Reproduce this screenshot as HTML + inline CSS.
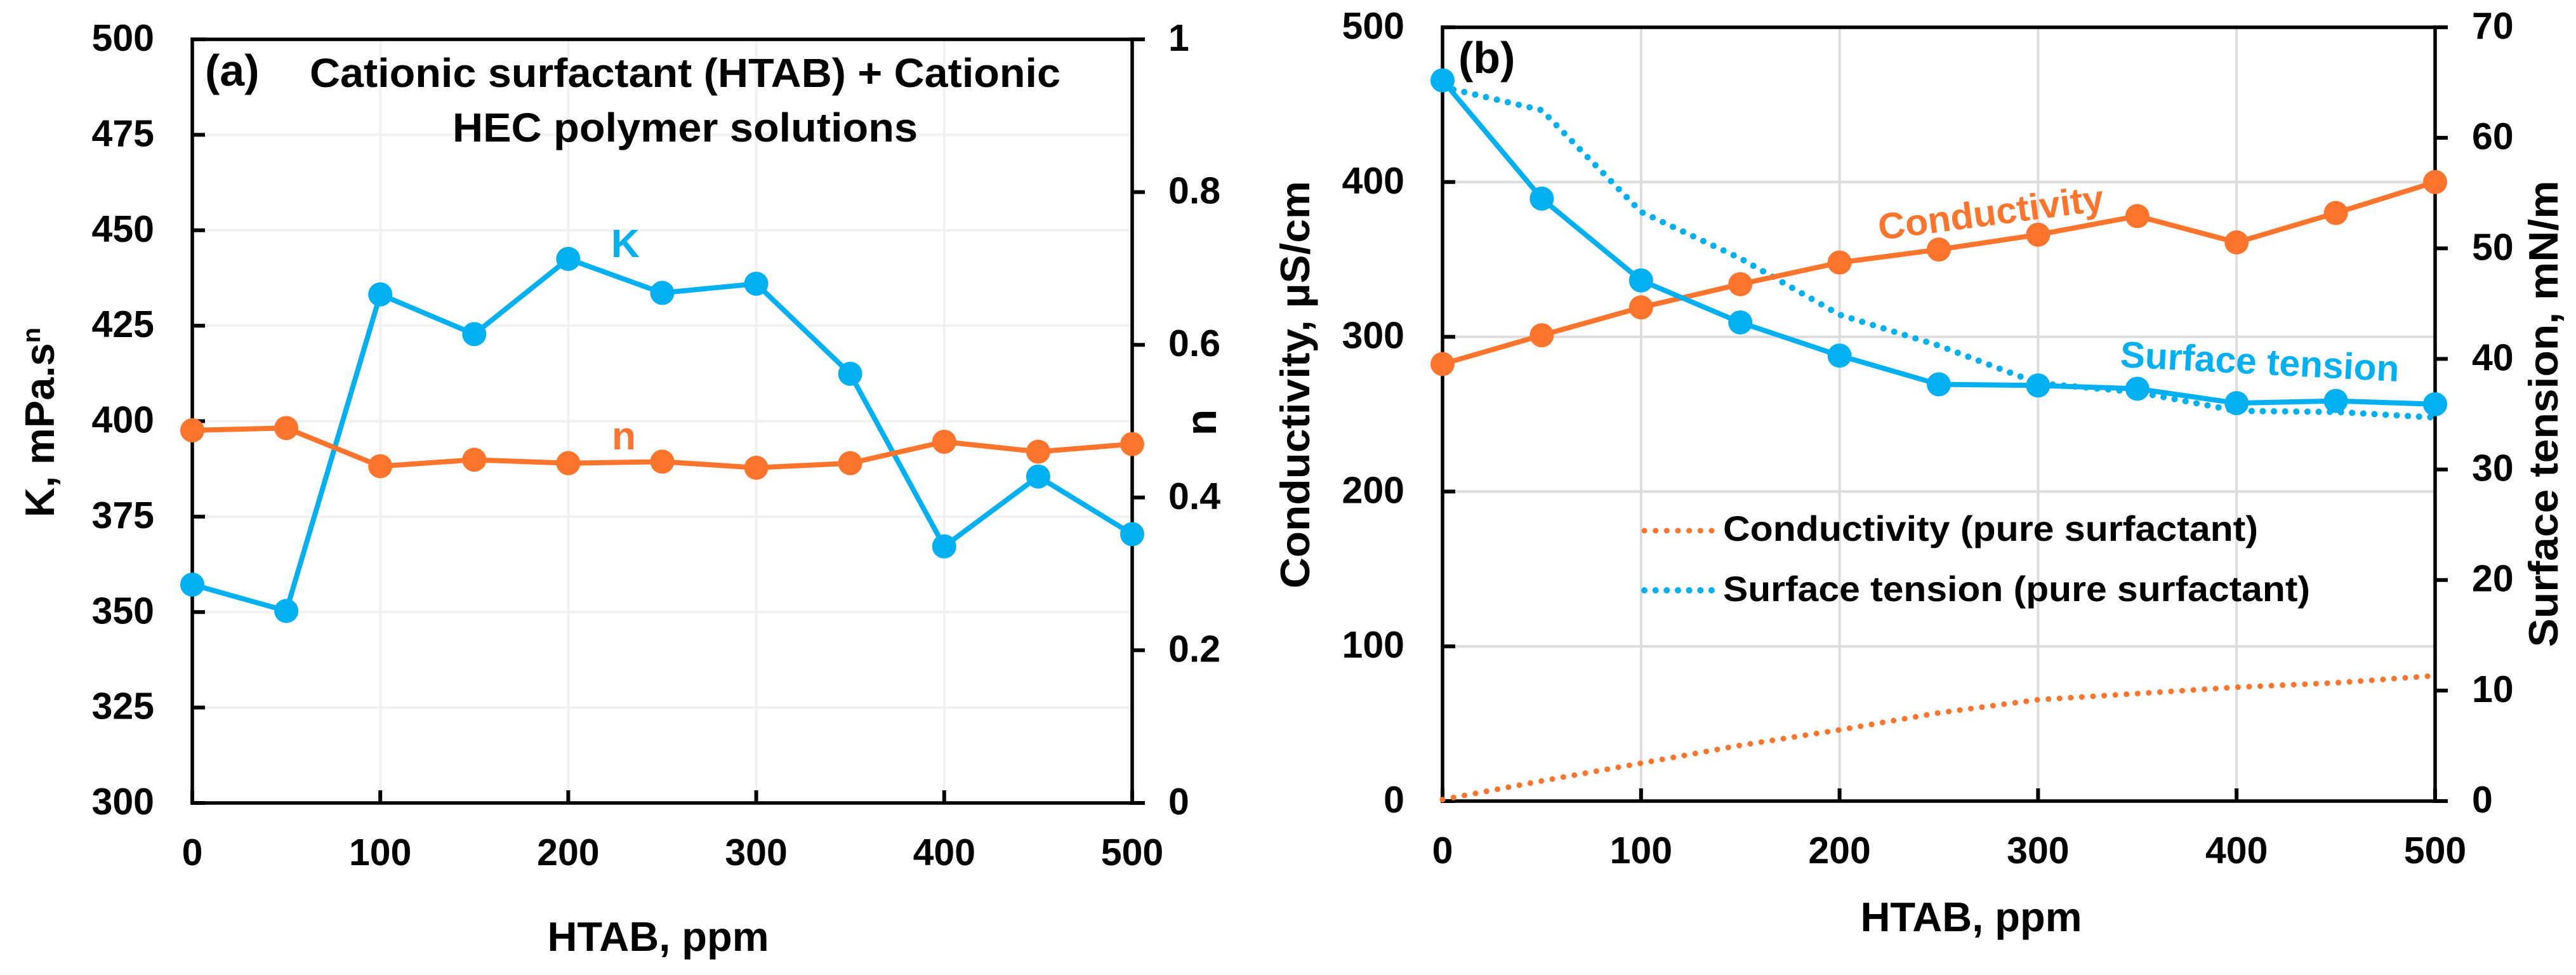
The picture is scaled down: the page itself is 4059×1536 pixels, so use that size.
<!DOCTYPE html>
<html lang="en">
<head>
<meta charset="utf-8">
<title>HTAB surfactant and cationic HEC polymer charts</title>
<style>
  html, body { margin: 0; padding: 0; background: #fff; }
  svg { display: block; }
  text { font-family: "Liberation Sans", sans-serif; font-weight: 700; fill: #000; }
  .tick { font-size: 59px; }
  .title { font-size: 64px; }
  .axis-title { font-size: 65px; }
  .legend { font-size: 56px; }
  .panel { font-size: 70px; }
</style>
</head>
<body>
<svg id="chart" xmlns="http://www.w3.org/2000/svg" width="4059" height="1536" viewBox="0 0 4059 1536">
  <rect x="0" y="0" width="4059" height="1536" fill="#ffffff"/>
  <g id="panel-a-layer"></g>
  <g id="panel-b-layer"></g>

  <text class="panel" x="323" y="135">(a)</text>
  <text class="title" x="488" y="137" textLength="1183" lengthAdjust="spacingAndGlyphs">Cationic surfactant (HTAB) + Cationic</text>
  <text class="title" x="713" y="223" textLength="733" lengthAdjust="spacingAndGlyphs">HEC polymer solutions</text>
  <text x="963" y="405" font-size="62" style="fill:#00B0F0">K</text>
  <text x="964" y="708" font-size="62" style="fill:#FD742C">n</text>
  <text class="axis-title" x="1037" y="1498" text-anchor="middle">HTAB, ppm</text>
  <text class="axis-title" transform="translate(85 815) rotate(-90)">K, mPa.s<tspan dy="-22" font-size="40">n</tspan></text>
  <text transform="translate(1916 665.5) rotate(-90)" text-anchor="middle" font-size="68">n</text>

  <text class="panel" x="2298" y="115">(b)</text>
  <text font-size="58" transform="translate(2962 378) rotate(-7.5)" textLength="358" lengthAdjust="spacingAndGlyphs" style="fill:#FD742C">Conductivity</text>
  <text font-size="58" transform="translate(3340 578) rotate(3)" textLength="440" lengthAdjust="spacingAndGlyphs" style="fill:#00B0F0">Surface tension</text>
  <line x1="2591" y1="836" x2="2698" y2="836" stroke="#FD742C" stroke-width="9" stroke-linecap="round" stroke-dasharray="0 17.65"/>
  <text class="legend" x="2715" y="852" textLength="843" lengthAdjust="spacingAndGlyphs">Conductivity (pure surfactant)</text>
  <line x1="2591" y1="930" x2="2698" y2="930" stroke="#00B0F0" stroke-width="10" stroke-linecap="round" stroke-dasharray="0 17.65"/>
  <text class="legend" x="2715" y="947" textLength="925" lengthAdjust="spacingAndGlyphs">Surface tension (pure surfactant)</text>
  <text class="axis-title" x="3106" y="1467" text-anchor="middle">HTAB, ppm</text>
  <text class="axis-title" transform="translate(2063 606) rotate(-90)" text-anchor="middle" textLength="642" lengthAdjust="spacingAndGlyphs">Conductivity, µS/cm</text>
  <text class="axis-title" transform="translate(4030 652) rotate(-90)" text-anchor="middle" textLength="735" lengthAdjust="spacingAndGlyphs">Surface tension, mN/m</text>
</svg>
<script>
const htab = [0, 50, 100, 150, 200, 250, 300, 350, 400, 450, 500];
const kValues = [357.2, 350.3, 433.2, 422.8, 442.5, 433.6, 436, 412.4, 367.2, 385.5, 370.4];
const nValues = [0.488, 0.491, 0.441, 0.4495, 0.445, 0.447, 0.439, 0.445, 0.473, 0.46, 0.47];
const conductivity = [282.4, 301, 319, 334, 348, 356.4, 366, 378, 361, 380, 400];
const surfaceTension = [65.2, 54.5, 47.1, 43.3, 40.3, 37.7, 37.6, 37.3, 36, 36.2, 35.9];
const pureConductivity = [1, 13, 24.5, 36, 46, 57, 65.5, 69.5, 73.6, 76.4, 81];
const pureSurfaceTension = [64.6, 62.5, 53.3, 49.1, 44, 41.2, 37.8, 37, 35.3, 35.2, 34.7];
const xTicks = [0, 100, 200, 300, 400, 500];
const kTicks = [300, 325, 350, 375, 400, 425, 450, 475, 500];
const nTicks = [0, 0.2, 0.4, 0.6, 0.8, 1];
const conductivityTicks = [0, 100, 200, 300, 400, 500];
const tensionTicks = [0, 10, 20, 30, 40, 50, 60, 70];

const BLUE = '#00B0F0';
const ORANGE = '#FD742C';
const NS = 'http://www.w3.org/2000/svg';

function xA(v) { return 303 + (v / 500) * 1481; }
function yK(v) { return 1265 - ((v - 300) / 200) * 1203; }
function yN(v) { return 1265 - v * 1203; }
function xB(v) { return 2273 + (v / 500) * 1564; }
function yC(v) { return 1262 - (v / 500) * 1219; }
function yT(v) { return 1262 - (v / 70) * 1219; }

function makeLine(parent, x1, y1, x2, y2, color, width) {
  const el = document.createElementNS(NS, 'line');
  el.setAttribute('x1', x1);
  el.setAttribute('y1', y1);
  el.setAttribute('x2', x2);
  el.setAttribute('y2', y2);
  el.setAttribute('stroke', color);
  el.setAttribute('stroke-width', width);
  parent.appendChild(el);
  return el;
}
function makeText(parent, x, y, anchor, content) {
  const el = document.createElementNS(NS, 'text');
  el.setAttribute('x', x);
  el.setAttribute('y', y);
  el.setAttribute('text-anchor', anchor);
  el.setAttribute('class', 'tick');
  el.textContent = content;
  parent.appendChild(el);
  return el;
}
function makePath(parent, xs, ys, xFn, yFn, color, width) {
  const el = document.createElementNS(NS, 'path');
  let d = '';
  xs.forEach(function (x, i) { d += (i ? 'L' : 'M') + xFn(x).toFixed(1) + ' ' + yFn(ys[i]).toFixed(1); });
  el.setAttribute('d', d);
  el.setAttribute('fill', 'none');
  el.setAttribute('stroke', color);
  el.setAttribute('stroke-width', width);
  el.setAttribute('stroke-linejoin', 'round');
  parent.appendChild(el);
  return el;
}
function makeDot(parent, cx, cy, color) {
  const el = document.createElementNS(NS, 'circle');
  el.setAttribute('cx', cx);
  el.setAttribute('cy', cy);
  el.setAttribute('r', 19);
  el.setAttribute('fill', color);
  parent.appendChild(el);
  return el;
}

function drawFrame(parent, xFn, yFn, yRightFn, leftTicks, rightTicks, left, right, top, bottom, leftLabelX, rightLabelX, xLabelY) {
  xTicks.forEach(function (t) {
    const grid = makeLine(parent, xFn(t), top, xFn(t), bottom, parent.id === 'panel-a-layer' ? '#F1F1F1' : '#DCDCDC', 4);
    
    
  });
  leftTicks.forEach(function (t) {
    const grid = makeLine(parent, left, yFn(t), right, yFn(t), parent.id === 'panel-a-layer' ? '#F1F1F1' : '#DCDCDC', 4);
    
    
  });
  const sides = [[left, top, right, top], [left, bottom, right, bottom], [left, top - 3, left, bottom + 3], [right, top - 3, right, bottom + 3]];
  sides.forEach(function (s) {
    const axis = makeLine(parent, s[0], s[1], s[2], s[3], '#000', 5.5);
    
    
  });
  xTicks.forEach(function (t) {
    const mark = makeLine(parent, xFn(t), bottom, xFn(t), bottom - 20, '#000', 6);
    
    
    const label = makeText(parent, xFn(t), xLabelY, 'middle', String(t));
    
    
  });
  leftTicks.forEach(function (t) {
    const mark = makeLine(parent, left, yFn(t), left + 20, yFn(t), '#000', 6);
    
    
    const label = makeText(parent, leftLabelX, yFn(t) + 18, 'end', String(t));
    
    
  });
  rightTicks.forEach(function (t) {
    const mark = makeLine(parent, right, yRightFn(t), right + 20, yRightFn(t), '#000', 6);
    
    
    const label = makeText(parent, rightLabelX, yRightFn(t) + 18, 'start', String(t));
    
    
  });
}

const layerA = document.getElementById('panel-a-layer');
const layerB = document.getElementById('panel-b-layer');

drawFrame(layerA, xA, yK, yN, kTicks, nTicks, 303, 1784, 62, 1265, 243, 1841, 1363);
drawFrame(layerB, xB, yC, yT, conductivityTicks, tensionTicks, 2273, 3837, 43, 1262, 2213, 3895, 1360);

const kLine = makePath(layerA, htab, kValues, xA, yK, BLUE, 8);


const nLine = makePath(layerA, htab, nValues, xA, yN, ORANGE, 8);


htab.forEach(function (x, i) {
  const dot = makeDot(layerA, xA(x), yK(kValues[i]), BLUE);
  
  
});
htab.forEach(function (x, i) {
  const dot = makeDot(layerA, xA(x), yN(nValues[i]), ORANGE);
  
  
});

const pureCondLine = makePath(layerB, htab, pureConductivity, xB, yC, ORANGE, 9);


pureCondLine.setAttribute('stroke-linecap', 'round');
pureCondLine.setAttribute('stroke-dasharray', '0 17.6');
const pureTensionLine = makePath(layerB, htab, pureSurfaceTension, xB, yT, BLUE, 10);


pureTensionLine.setAttribute('stroke-linecap', 'round');
pureTensionLine.setAttribute('stroke-dasharray', '0 17.6');
const condLine = makePath(layerB, htab, conductivity, xB, yC, ORANGE, 8);


const tensionLine = makePath(layerB, htab, surfaceTension, xB, yT, BLUE, 8);


htab.forEach(function (x, i) {
  const dot = makeDot(layerB, xB(x), yC(conductivity[i]), ORANGE);
  
  
});
htab.forEach(function (x, i) {
  const dot = makeDot(layerB, xB(x), yT(surfaceTension[i]), BLUE);
  
  
});
</script>
</body>
</html>
